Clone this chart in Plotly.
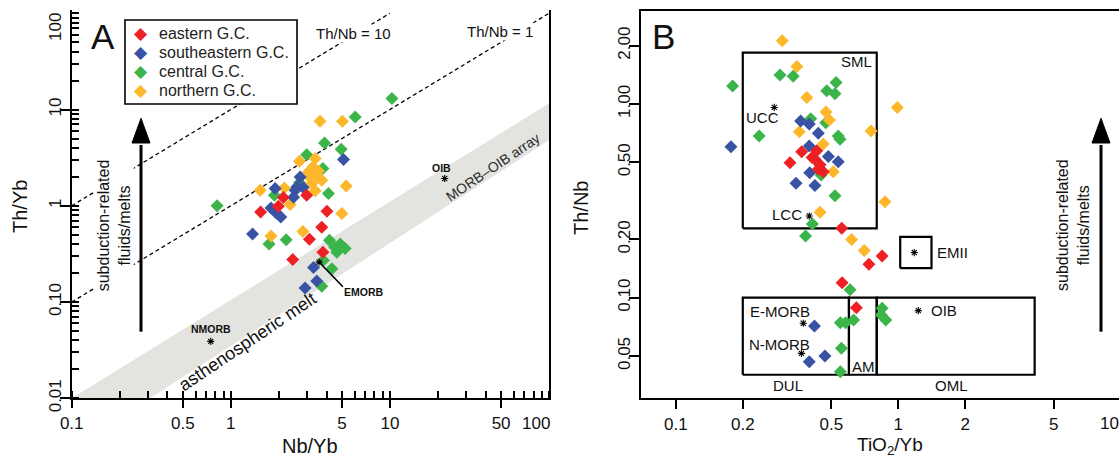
import plotly.graph_objects as go

W, H = 1119, 457
FONT = "Liberation Sans, Arial, Helvetica, sans-serif"
INK = "#111111"

# ---------------- data ----------------
group_names = ["eastern G.C.", "southeastern G.C.", "central G.C.", "northern G.C."]
group_colors = ["#ED2024", "#3953A4", "#3BB44A", "#FDB72B"]

# Panel A : Nb/Yb (x) vs Th/Yb (y)
A_east_nb = [2.14, 3.0, 1.99, 1.54, 4.02, 3.73, 3.12, 3.79, 2.45]
A_east_th = [1.22, 1.29, 0.99, 0.86, 0.88, 0.60, 0.45, 0.33, 0.276]
A_seast_nb = [5.11, 1.90, 2.54, 2.73, 2.48, 2.60, 2.85, 1.79, 1.93, 2.06, 1.37, 3.31, 2.93, 3.47]
A_seast_th = [3.02, 1.51, 1.45, 1.99, 1.23, 1.57, 1.55, 0.95, 0.84, 0.765, 0.51, 0.228, 0.14, 0.165]
A_cent_nb = [10.3, 6.05, 3.88, 4.94, 3.0, 3.79, 2.70, 1.88, 4.11, 0.82, 1.74, 2.23, 4.17,
             4.87, 4.64, 5.23, 4.5, 3.82, 4.32, 3.73]
A_cent_th = [13.0, 8.38, 4.5, 3.87, 3.40, 2.44, 1.73, 1.29, 1.34, 1.0, 0.40, 0.445, 0.438,
             0.40, 0.33, 0.36, 0.37, 0.271, 0.222, 0.146]
A_north_nb = [3.64, 5.03, 2.70, 3.39, 3.28, 3.47, 3.73, 3.23, 3.39, 3.08, 3.55, 3.15, 1.53,
              2.17, 5.31, 2.36, 4.99, 2.84, 1.79]
A_north_th = [7.55, 7.55, 2.90, 3.09, 2.53, 2.07, 1.84, 1.70, 1.43, 2.25, 2.30, 1.95, 1.45,
              1.53, 1.61, 1.03, 0.83, 0.54, 0.485]

# Panel B : TiO2/Yb (x) vs Th/Nb (y)
B_east_ti = [0.368, 0.43, 0.326, 0.422, 0.445, 0.46, 0.437, 0.41, 0.557, 0.846, 0.738, 0.559, 0.648]
B_east_th = [0.567, 0.574, 0.498, 0.518, 0.485, 0.447, 0.46, 0.53, 0.228, 0.164, 0.149, 0.1195, 0.0888]
B_seast_ti = [0.364, 0.398, 0.437, 0.177, 0.398, 0.485, 0.537, 0.40, 0.347, 0.422, 0.42, 0.468, 0.398]
B_seast_th = [0.817, 0.788, 0.706, 0.602, 0.607, 0.535, 0.504, 0.442, 0.39, 0.379, 0.0714, 0.05, 0.0467]
B_cent_ti = [0.294, 0.337, 0.18, 0.525, 0.477, 0.519, 0.404, 0.472, 0.537, 0.547, 0.237, 0.45,
             0.519, 0.411, 0.383, 0.607, 0.846, 0.839, 0.878, 0.549, 0.58, 0.63, 0.555, 0.549]
B_cent_th = [1.41, 1.39, 1.24, 1.29, 1.17, 1.13, 0.84, 0.80, 0.684, 0.657, 0.684, 0.43,
             0.336, 0.24, 0.208, 0.110, 0.0882, 0.0814, 0.0767, 0.0743, 0.0743, 0.0767, 0.0548, 0.0415]
B_north_ti = [0.301, 0.35, 0.388, 0.99, 0.473, 0.49, 0.359, 0.754, 0.46, 0.51, 0.871, 0.445, 0.617, 0.703]
B_north_th = [2.12, 1.56, 1.08, 0.96, 0.91, 0.827, 0.72, 0.726, 0.622, 0.447, 0.313, 0.276, 0.20, 0.175]

# reference compositions
A_ref_names = ["NMORB", "EMORB", "OIB"]
A_ref_nb = [0.748, 3.59, 22.1]
A_ref_th = [0.039, 0.26, 1.92]
B_ref_names = ["UCC", "LCC", "E-MORB", "N-MORB", "OIB", "EMII"]
B_ref_ti = [0.277, 0.398, 0.374, 0.367, 1.23, 1.18]
B_ref_th = [0.96, 0.264, 0.0738, 0.0516, 0.0857, 0.171]

# Th/Nb reference ratios (panel A dashed lines)
thnb_ratios = [10, 1]
thnb_labels = ["Th/Nb = 10", "Th/Nb = 1"]

# MORB-OIB array (Nb/Yb, Th/Yb corners)
array_nb = [0.1, 100, 100, 0.31, 0.1]
array_th = [0.01, 11.6, 4.8, 0.01, 0.01]

# Panel B fields: (name, x0, x1, y0, y1)
fields = [("SML", 0.2, 0.8, 0.228, 1.84),
          ("DUL", 0.2, 0.6, 0.04, 0.1),
          ("AM", 0.6, 0.8, 0.04, 0.1),
          ("OML", 0.8, 4.1, 0.04, 0.1),
          ("EMII", 1.02, 1.41, 0.142, 0.206)]

A_groups = [(A_east_nb, A_east_th), (A_seast_nb, A_seast_th), (A_cent_nb, A_cent_th), (A_north_nb, A_north_th)]
B_groups = [(B_east_ti, B_east_th), (B_seast_ti, B_seast_th), (B_cent_ti, B_cent_th), (B_north_ti, B_north_th)]

fig = go.Figure()

# MORB-OIB array band
fig.add_trace(go.Scatter(x=array_nb, y=array_th, mode="lines", fill="toself",
                         fillcolor="#E3E3E0", line=dict(width=0), hoverinfo="skip",
                         showlegend=False, xaxis="x", yaxis="y"))

# Th/Nb lines
for r in thnb_ratios:
    fig.add_trace(go.Scatter(x=[0.1, 100.0 / r], y=[0.1 * r, 100.0], mode="lines",
                             line=dict(color="black", width=1.3, dash="4px,3px"),
                             hoverinfo="skip", showlegend=False, xaxis="x", yaxis="y"))

# Panel B field boxes
for name, x0, x1, y0, y1 in fields:
    fig.add_trace(go.Scatter(x=[x0, x1, x1, x0, x0], y=[y0, y0, y1, y1, y0], mode="lines",
                             line=dict(color="black", width=2.2), hoverinfo="skip",
                             showlegend=False, xaxis="x2", yaxis="y2"))

# data points (draw order: central, northern, southeastern, eastern)
draw_order = [2, 3, 1, 0]
for gi in draw_order:
    ax_, ay_ = A_groups[gi]
    bx_, by_ = B_groups[gi]
    for xs, ys, xa, ya in [(ax_, ay_, "x", "y"), (bx_, by_, "x2", "y2")]:
        fig.add_trace(go.Scatter(x=xs, y=ys, mode="markers", name=group_names[gi],
                                 legendgroup=group_names[gi], showlegend=False,
                                 marker=dict(symbol="diamond", size=10, color=group_colors[gi],
                                             line=dict(width=0)),
                                 xaxis=xa, yaxis=ya))

# reference stars
star = dict(symbol="asterisk-open", size=6, color="black", line=dict(width=1.1, color="black"))
fig.add_trace(go.Scatter(x=A_ref_nb, y=A_ref_th, mode="markers", showlegend=False, marker=star,
                         xaxis="x", yaxis="y", text=A_ref_names, hoverinfo="text"))
fig.add_trace(go.Scatter(x=B_ref_ti, y=B_ref_th, mode="markers", showlegend=False, marker=star,
                         xaxis="x2", yaxis="y2", text=B_ref_names, hoverinfo="text"))


def P(px, py):
    return px / W, 1 - py / H


annotations = []


def label(px, py, text, size, angle=0, bold=False, bg=None, color=INK, anchor="center"):
    x, y = P(px, py)
    if bold:
        text = "<b>" + text + "</b>"
    d = dict(x=x, y=y, xref="paper", yref="paper", text=text, showarrow=False,
             xanchor=anchor, yanchor="middle", textangle=angle,
             font=dict(family=FONT, size=size, color=color))
    if bg:
        d["bgcolor"] = bg
        d["borderpad"] = 0
    annotations.append(d)


# axis titles
label(310, 446, "Nb/Yb", 20)
label(20, 207, "Th/Yb", 20, angle=-90)
label(890, 446, "TiO<sub>2</sub>/Yb", 19)
label(581, 208, "Th/Nb", 20, angle=-90)

# edge tick labels shifted inward (as in the reference)
label(1109, 423, "10", 17)
label(536, 423, "100", 17)
label(55, 27, "100", 17, angle=-90)

# panel letters
label(103, 36, "A", 35)
label(663, 36, "B", 35)

# panel A texts
label(353.6, 33.3, thnb_labels[0], 15, bg="white")
label(500, 31.7, thnb_labels[1], 15, bg="white")
label(493, 167, "MORB–OIB array", 14, angle=-34, color="#2a2a2a")
label(247, 342, "asthenospheric melt", 18, angle=-34)
label(441.8, 168.3, "OIB", 10.5, bold=True)
label(211.4, 329.3, "NMORB", 10.5, bold=True)
label(364, 291.7, "EMORB", 10.5, bold=True)
label(114.3, 225, "subduction-related<br>fluids/melts", 16, angle=-90, bg="white")
label(1073, 225, "subduction-related<br>fluids/melts", 16, angle=-90)

# panel B texts
for txt, px, py in [("SML", 856.7, 61.7), ("UCC", 762.7, 117.7), ("LCC", 787.3, 214),
                    ("E-MORB", 779.6, 311.7), ("N-MORB", 779.6, 344), ("AM", 863.6, 366.7),
                    ("DUL", 788, 385.7), ("OML", 951, 385.7), ("EMII", 952.9, 252.3),
                    ("OIB", 944, 310.7)]:
    label(px, py, txt, 15)

shapes = []

# legend (drawn as a framed key)
lx0, ly0 = P(125, 20)
lx1, ly1 = P(297, 104)
shapes.append(dict(type="rect", xref="paper", yref="paper", x0=lx0, x1=lx1, y0=ly1, y1=ly0,
                   fillcolor="white", line=dict(color="black", width=1.6), layer="above"))
for i, (name, col) in enumerate(zip(group_names, group_colors)):
    row_y = 33.3 + i * 18.9
    label(141, row_y + 0.5, f"<span style='color:{col}'>◆</span>", 17, color=col)
    label(157, row_y, name, 16, color="#222222", anchor="left")


def arrow(px, ybot, ybase, ytip, half):
    x0, y0 = P(px, ybot)
    _, y1 = P(px, ybase + 2)
    shapes.append(dict(type="line", xref="paper", yref="paper", x0=x0, x1=x0, y0=y0, y1=y1,
                       line=dict(color="black", width=3)))
    xl, yb = P(px - half, ybase)
    xr, _ = P(px + half, ybase)
    xt, yt = P(px, ytip)
    shapes.append(dict(type="path", xref="paper", yref="paper",
                       path=f"M {xl},{yb} L {xt},{yt} L {xr},{yb} Z",
                       fillcolor="black", line=dict(color="black", width=1)))


arrow(141, 331.7, 143, 118.3, 9)
arrow(1101, 331.7, 143, 118.3, 9)

# EMORB leader
ex0, ey0 = P(319.5, 262.5)
ex1, ey1 = P(342.9, 286.7)
shapes.append(dict(type="line", xref="paper", yref="paper", x0=ex0, y0=ey0, x1=ex1, y1=ey1,
                   line=dict(color="black", width=1.6)))

# ---------------- axes ----------------
def minor_vals(lo_exp, hi_exp):
    out = []
    for e in range(lo_exp, hi_exp):
        for k in range(1, 10):
            out.append(k * 10.0 ** e)
    out.append(10.0 ** hi_exp)
    return out


tickfont = dict(family=FONT, size=17, color=INK)
common = dict(type="log", showgrid=False, zeroline=False, showline=True, linecolor="black",
              linewidth=2, tickcolor="black", tickwidth=1.5, tickfont=tickfont, automargin=False)

A_x_ticks = [0.1, 0.5, 1, 5, 10, 50, 100]
A_x_text = ["0.1", "0.5", "1", "5", "10", "50", ""]
A_y_ticks = [0.01, 0.1, 1, 10, 100]
A_y_text = ["0.01", "0.10", "1", "10", ""]
B_x_ticks = [0.1, 0.2, 0.5, 1, 2, 5]
B_x_text = ["0.1", "0.2", "0.5", "1", "2", "5"]
B_y_ticks = [0.05, 0.1, 0.2, 0.5, 1, 2]
B_y_text = ["0.05", "0.10", "0.20", "0.50", "1.00", "2.00"]

fig.update_layout(
    width=W, height=H, margin=dict(l=0, r=0, t=0, b=0, pad=0, autoexpand=False),
    paper_bgcolor="white", plot_bgcolor="rgba(0,0,0,0)",
    font=dict(family=FONT, color=INK),
    showlegend=False,
    xaxis=dict(**common, domain=[71.7 / W, 549 / W], range=[-1, 2], anchor="y",
               tickvals=A_x_ticks, ticktext=A_x_text, ticks="outside", ticklen=8,
               minor=dict(tickvals=minor_vals(-1, 2), ticks="inside", ticklen=7,
                          tickwidth=1.5, tickcolor="black", showgrid=False)),
    yaxis=dict(**common, domain=[(H - 398.3) / H, (H - 10) / H], range=[-2, 2.034], anchor="x",
               mirror=True, tickvals=A_y_ticks, ticktext=A_y_text, tickangle=-90,
               ticks="outside", ticklen=10, ticklabelstandoff=-8,
               minor=dict(tickvals=minor_vals(-2, 2), ticks="inside", ticklen=7,
                          tickwidth=1.5, tickcolor="black", showgrid=False)),
    xaxis2=dict(**common, domain=[641 / W, 1.0], range=[-1.1564, 0.9919], anchor="y2",
                mirror=True, tickvals=B_x_ticks, ticktext=B_x_text, ticks="outside", ticklen=9),
    yaxis2=dict(**common, domain=[(H - 398.3) / H, (H - 11) / H], range=[-1.5194, 0.4801],
                anchor="x2", tickvals=B_y_ticks, ticktext=B_y_text, tickangle=-90,
                ticks="outside", ticklen=10, ticklabelstandoff=-8),
    annotations=annotations,
    shapes=shapes,
)

fig.write_html("out.html", config={"displayModeBar": False})
